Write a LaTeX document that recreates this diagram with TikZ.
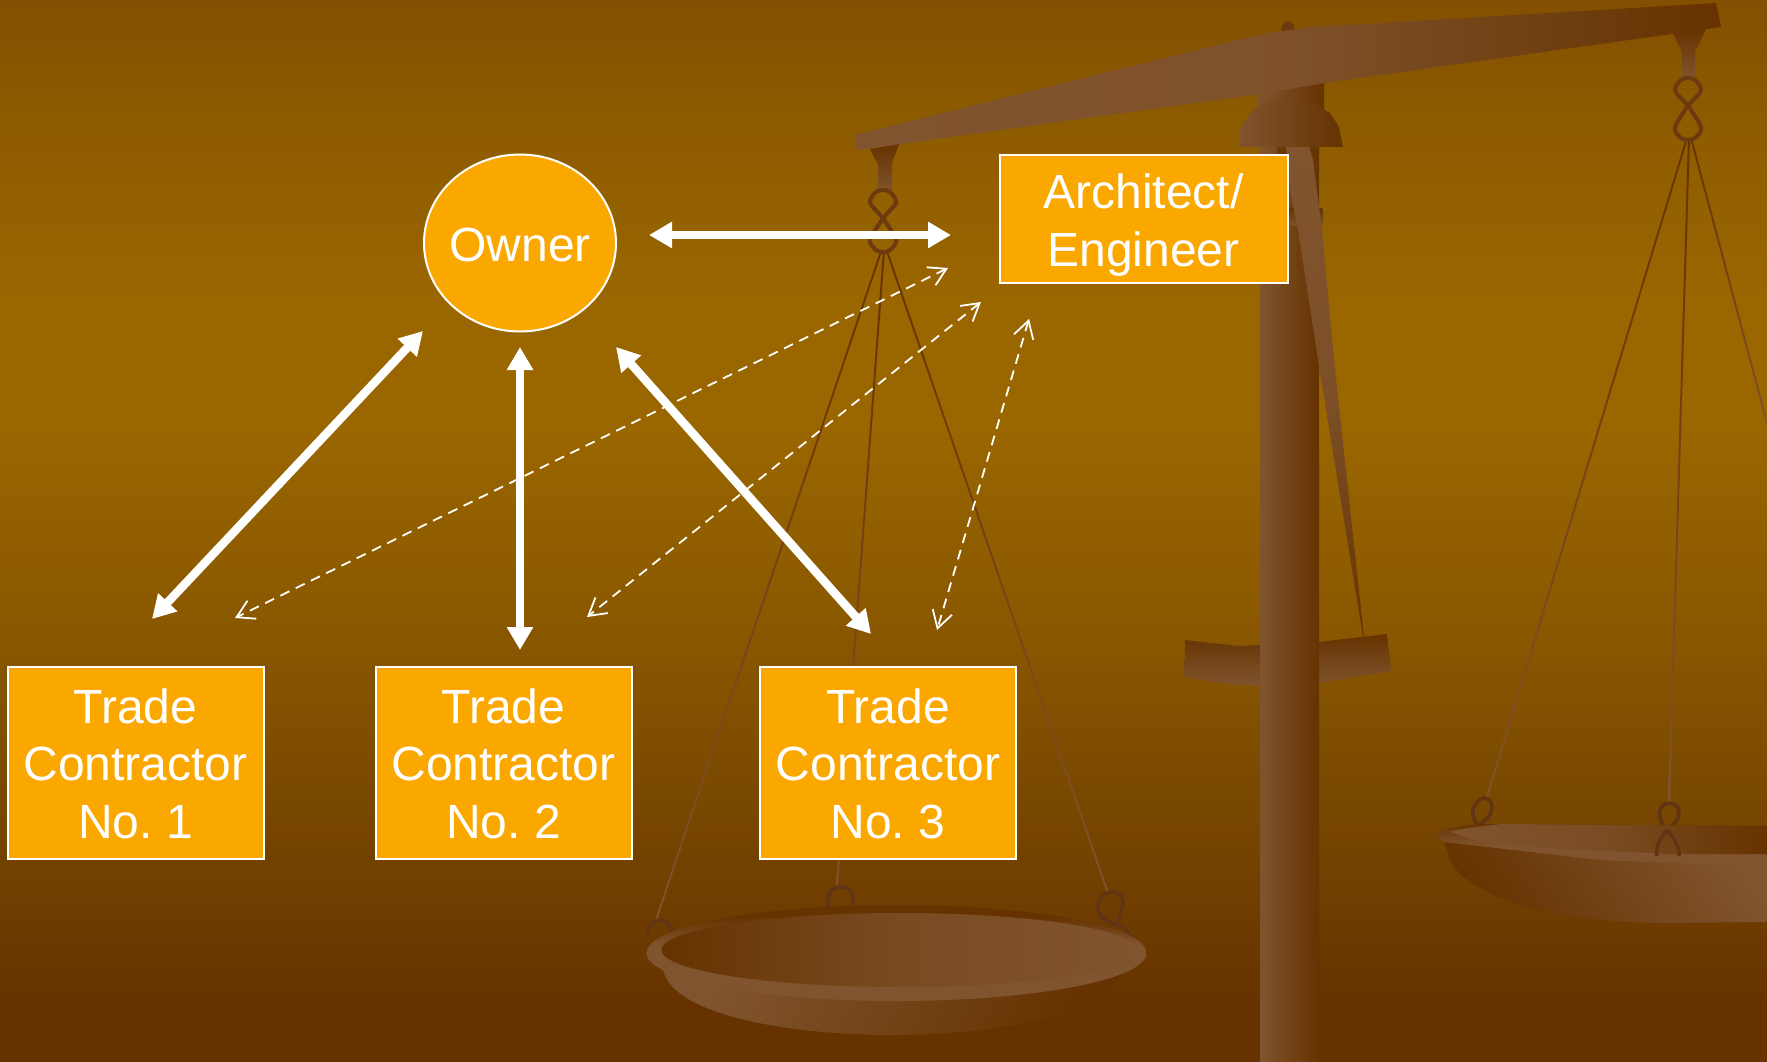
\documentclass[tikz,border=0pt]{standalone}
\usepackage{fontspec}
\setmainfont{Liberation Sans}
\frenchspacing
\usetikzlibrary{arrows.meta,shapes.geometric}
\definecolor{lite}{RGB}{128,84,46}
\definecolor{dark}{RGB}{102,51,0}
\definecolor{boxfill}{RGB}{250,167,0}
\definecolor{ringc}{RGB}{108,58,14}
\definecolor{ringd}{RGB}{96,52,20}
\definecolor{bga}{RGB}{130,80,0}
\definecolor{bgb}{RGB}{142,92,0}
\definecolor{bgc}{RGB}{153,102,0}
\definecolor{bgd}{RGB}{136,86,0}
\definecolor{bge}{RGB}{121,72,0}
\pgfdeclareverticalshading{bgshade}{100bp}{
 color(0bp)=(dark); color(27.9bp)=(dark);
 color(37.3bp)=(bge); color(44.4bp)=(bgd);
 color(54.8bp)=(bgc); color(60.9bp)=(bgc);
 color(68.9bp)=(bgb); color(75bp)=(bga); color(100bp)=(bga)}
\pgfdeclareverticalshading{rimshade}{100bp}{
 color(0bp)=(lite); color(54bp)=(lite); color(69bp)=(dark); color(100bp)=(dark)}
\tikzset{
 strong/.style={draw=white,line width=8.5pt,{Triangle[length=23pt,width=25pt]}-{Triangle[length=23pt,width=25pt]}},
 weak/.style={draw=white,line width=1.8pt,dash pattern=on 10pt off 7pt,{Straight Barb[length=17pt,width=20pt]}-{Straight Barb[length=17pt,width=20pt]}},
 party/.style={draw=white,line width=2pt,fill=boxfill,text=white,align=center,inner sep=0pt,
   font=\fontsize{48}{57.6}\selectfont},
 ringline/.style={draw=ringc,line width=4pt,line join=round,rounded corners=5pt},
 ringfade/.style={draw=ringd,line width=3.6pt,line join=round},
 wire/.style={top color=dark,bottom color=lite,draw=none},
 metalh/.style={left color=lite,right color=dark,draw=none},
 metalv/.style={top color=dark,bottom color=lite,draw=none},
}
\newcommand{\figeight}[4]{% cx, top, mid, bottom
 \draw[ringline] (#1,#3) -- (#1-15,#2+12) -- (#1-6,#2) -- (#1+6,#2) -- (#1+15,#2+12) -- (#1,#3)
   -- (#1-15,#4-11) -- (#1-6,#4) -- (#1+6,#4) -- (#1+15,#4-11) -- cycle;}
\begin{document}
\begin{tikzpicture}[x=1pt,y=-1pt]
\useasboundingbox (0,0) rectangle (1767,1062);
\clip (0,0) rectangle (1767,1062);
\shade[shading=bgshade] (0,0) rectangle (1767,1062);

% --- strings, left pan
\shade[wire] (880.5,250) -- (882.5,250) -- (657,920) -- (655,920) -- cycle;
\shade[wire] (883,250) -- (885,250) -- (838,885) -- (836,885) -- cycle;
\shade[wire] (885.5,250) -- (887.5,250) -- (1108.5,892) -- (1106.5,892) -- cycle;
% --- strings, right pan
\shade[wire] (1686,138) -- (1688,138) -- (1488,797) -- (1486,797) -- cycle;
\shade[wire] (1688,138) -- (1690,138) -- (1670,802) -- (1668,802) -- cycle;
\shade[wire] (1690,138) -- (1692,138) -- (1768,423) -- (1766,423) -- cycle;

% --- rings at left pan
\draw[ringfade] (648,934) .. controls (646,918) and (670,914) .. (671,932);
\draw[ringfade] (829,908) .. controls (824,890) and (836,887) .. (841,887)
   .. controls (852,887) and (856,895) .. (851,910);
\draw[ringfade] (1111,892) .. controls (1122,892) and (1125,900) .. (1122,908)
   .. controls (1120,916) and (1117,922) .. (1115,925)
   .. controls (1105,921) and (1097,915) .. (1098,905)
   .. controls (1099,898) and (1104,893) .. (1111,892) -- cycle;
\draw[ringfade] (1115,925) .. controls (1125,925) and (1135,938) .. (1136,950);

% --- left pan
\shade[left color=lite,right color=dark,shading angle=65] (663,968) .. controls (668,1012) and (780,1035) .. (892,1035) .. controls (1010,1035) and (1118,1010) .. (1122,968) -- cycle;
\shade[shading=rimshade] (896.5,953) ellipse [x radius=250,y radius=48];
\shade[left color=dark,right color=lite,middle color=lite!72!dark] (899.5,950) ellipse [x radius=238,y radius=37];

% --- rings at right pan
\draw[ringfade] (1484,798) .. controls (1476,801) and (1472,806) .. (1473,814)
   .. controls (1474,820) and (1476,823) .. (1478,826)
   .. controls (1484,822) and (1492,816) .. (1492,807)
   .. controls (1492,802) and (1490,799) .. (1484,798) -- cycle;
\draw[ringfade] (1669,803) .. controls (1660,804) and (1658,812) .. (1660,818)
   .. controls (1661,823) and (1664,827) .. (1667,830)
   .. controls (1672,826) and (1679,821) .. (1679,813)
   .. controls (1679,807) and (1676,804) .. (1669,803) -- cycle;

% --- right pan
\shade[left color=dark,right color=lite,shading angle=125] (1436,833) -- (1444,842) -- (1450,860) .. controls (1458,875) and (1470,885) .. (1513,903) .. controls (1545,913) and (1600,923) .. (1665,923) -- (1767,922) -- (1767,860) -- cycle;
\shade[top color=dark,bottom color=lite,middle color=lite] (1436,833) .. controls (1450,826) and (1475,824) .. (1501,824) -- (1767,826) -- (1767,867) -- (1600,860) -- (1444,842) -- cycle;
\shade[left color=lite,right color=dark,middle color=lite!75!dark] (1450,832) .. controls (1462,828) and (1485,826) .. (1501,824) -- (1767,826) -- (1767,854) -- (1670,854) -- (1551,848) -- (1482,842) -- cycle;
\draw[ringfade] (1667,830) .. controls (1658,840) and (1655,850) .. (1657,856);
\draw[ringfade] (1667,830) .. controls (1676,840) and (1680,850) .. (1679,856);
\fill[lite] (1657,856) .. controls (1660,866) and (1676,866) .. (1679,856) -- cycle;

% --- left hanger
\shade[metalv] (870,149) -- (899,144) -- (892,163) -- (892,192) -- (878,192) -- (878,165) -- cycle;
\figeight{883}{190}{218}{252}
% --- right hanger
\shade[metalv] (1673,33) -- (1706,29) -- (1695,52) -- (1695,79) -- (1682,79) -- (1682,52) -- cycle;
\figeight{1688}{78}{105}{140}

% --- crossbar
\shade[metalv] (1185,640) -- (1239,646) -- (1318,642) -- (1387,634) -- (1391,671) -- (1318,683) -- (1260,686) -- (1220,683) -- (1184.5,677) -- cycle;

% --- column, block, beam
\shade[metalh] (1260,147) rectangle (1319,1062);
\fill[dark!85!lite] (1277,147) rectangle (1287,156);
\shade[metalv,rounded corners=2pt] (1289,208) rectangle (1323,226);
\shade[top color=lite,bottom color=dark,middle color=lite!85!dark] (1286,147) -- (1309,147) -- (1313,160) -- (1322,230) -- (1334,360) -- (1364,637) -- (1366,652) -- (1363,637) -- (1318,360) -- (1298,230) -- (1290,190) -- cycle;
\shade[metalh] (1258,60) rectangle (1324,110);
\shade[metalh] (1238,147) -- (1241,127) -- (1250,113) -- (1263,103) -- (1290,101) -- (1313,103) -- (1330,113) -- (1339,127) -- (1343,147) -- cycle;
\fill[ringc] (1288,30) ellipse [x radius=6.5,y radius=9];
\shade[left color=lite,right color=dark,middle color=lite!92!dark] (854,135) -- (1266,33) -- (1314,27) -- (1716,3) -- (1721,27) -- (1324,83) -- (1260,94) -- (857,150) -- cycle;

% --- parties
\node[party,ellipse,minimum width=192pt,minimum height=177pt] (owner) at (520,243) {\makebox[0pt]{\raisebox{-18pt}[0pt][0pt]{Owner}}};
\node[party,rectangle,minimum width=288pt,minimum height=128pt] (ae) at (1143.5,219) {\rule{0pt}{47pt}Architect/\\Engineer};
\node[party,rectangle,minimum width=256pt,minimum height=192pt] (tc1) at (135.5,762.5) {\rule{0pt}{37pt}Trade\\Contractor\\No. 1};
\node[party,rectangle,minimum width=256pt,minimum height=192pt] (tc2) at (503.5,762.5) {\rule{0pt}{37pt}Trade\\Contractor\\No. 2};
\node[party,rectangle,minimum width=256pt,minimum height=192pt] (tc3) at (888,762.5) {\rule{0pt}{37pt}Trade\\Contractor\\No. 3};

% --- connector ends
\coordinate (oR) at (649,235);   \coordinate (aL) at (951,235);
\coordinate (o1) at (423,331);   \coordinate (t1) at (152,619);
\coordinate (o2) at (520,347);   \coordinate (t2) at (520,650);
\coordinate (o3) at (616,347);   \coordinate (t3) at (871,634);
\coordinate (a1) at (948,268);   \coordinate (d1) at (235,618);
\coordinate (a2) at (981,302);   \coordinate (d2) at (587,617);
\coordinate (a3) at (1029,319);  \coordinate (d3) at (937,630);

\draw[strong] (oR) -- (aL);
\draw[strong] (o1) -- (t1);
\draw[strong] (o2) -- (t2);
\draw[strong] (o3) -- (t3);
\draw[weak] (a1) -- (d1);
\draw[weak] (a2) -- (d2);
\draw[weak] (a3) -- (d3);
\end{tikzpicture}
\end{document}
